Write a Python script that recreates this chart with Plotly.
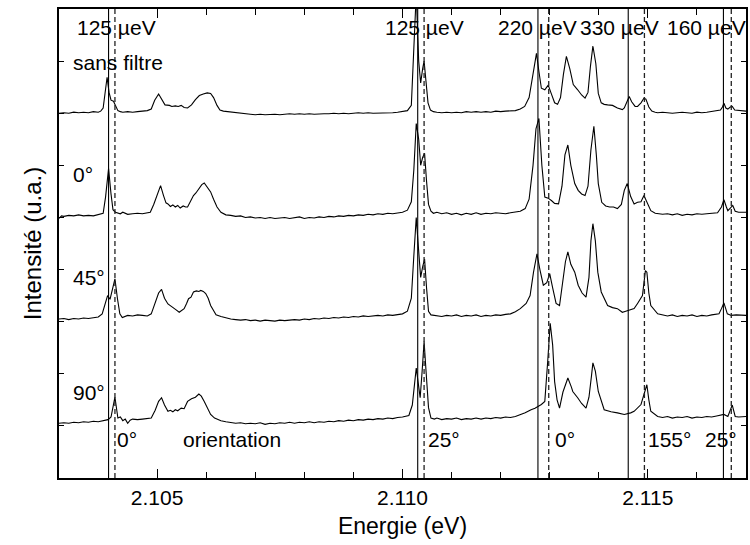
import plotly.graph_objects as go

# ---------------- data (energy eV, intensity above trace baseline) ----------------
spec_sans_filtre = [
    (2.1030, 0.00), (2.1031, 0.01), (2.1032, 0.00), (2.1033, 0.02), (2.1034, 0.01), (2.1035, 0.02),
    (2.1036, 0.01), (2.1037, 0.03), (2.1038, 0.02), (2.10385, 0.04), (2.1039, 0.10), (2.10394, 0.35),
    (2.10398, 0.69), (2.10402, 0.40), (2.10406, 0.25), (2.10411, 0.23), (2.10416, 0.12), (2.1042, 0.05),
    (2.10425, 0.03), (2.1043, 0.02), (2.1044, 0.03), (2.1045, 0.02), (2.1046, 0.03), (2.1047, 0.04),
    (2.1048, 0.05), (2.10488, 0.08), (2.10495, 0.25), (2.10503, 0.37), (2.1051, 0.25), (2.10516, 0.16),
    (2.10525, 0.15), (2.1053, 0.13), (2.10537, 0.14), (2.10543, 0.13), (2.10549, 0.15), (2.10555, 0.11),
    (2.10562, 0.10), (2.1057, 0.16), (2.10578, 0.26), (2.10586, 0.34), (2.10594, 0.37), (2.10602, 0.39),
    (2.10609, 0.38), (2.10615, 0.30), (2.10622, 0.15), (2.10628, 0.06), (2.10635, 0.04), (2.1065, 0.02),
    (2.1066, 0.01), (2.1067, 0.00), (2.1068, -0.01), (2.1069, -0.02), (2.1070, -0.03), (2.1071, -0.02),
    (2.1072, -0.03), (2.1073, -0.02), (2.1074, -0.02), (2.1075, -0.03), (2.1076, -0.02), (2.1077, -0.01),
    (2.1078, -0.02), (2.1079, -0.01), (2.1080, -0.02), (2.1081, -0.01), (2.1082, -0.02), (2.1083, -0.01),
    (2.1084, -0.01), (2.1085, -0.01), (2.1086, 0.00), (2.1087, -0.01), (2.1088, 0.00), (2.1089, -0.01),
    (2.1090, 0.00), (2.1091, 0.01), (2.1092, 0.00), (2.1093, 0.01), (2.1094, 0.00), (2.1095, 0.00),
    (2.1096, 0.01), (2.1097, 0.00), (2.1098, 0.01), (2.1099, 0.02), (2.1100, 0.03), (2.1101, 0.05),
    (2.11018, 0.15), (2.11023, 1.2), (2.11028, 2.3), (2.11033, 1.0), (2.11037, 0.58), (2.11041, 0.85),
    (2.11044, 1.0), (2.11048, 0.6), (2.11052, 0.2), (2.11057, 0.06), (2.11063, 0.03), (2.1107, 0.02),
    (2.1108, 0.01), (2.1109, 0.02), (2.1110, 0.01), (2.1111, 0.02), (2.1112, 0.01), (2.1113, 0.03),
    (2.1114, 0.02), (2.1115, 0.03), (2.1116, 0.02), (2.1117, 0.03), (2.1118, 0.02), (2.1119, 0.04),
    (2.1120, 0.03), (2.1121, 0.04), (2.1122, 0.04), (2.1123, 0.05), (2.1124, 0.08), (2.11249, 0.13),
    (2.11258, 0.30), (2.11266, 0.75), (2.11273, 1.15), (2.11278, 0.80), (2.11283, 0.48), (2.1129, 0.45),
    (2.11297, 0.54), (2.11303, 0.38), (2.1131, 0.20), (2.11316, 0.17), (2.11322, 0.30), (2.11328, 0.75),
    (2.11334, 1.09), (2.11341, 0.85), (2.11348, 0.55), (2.11357, 0.45), (2.11365, 0.35), (2.11372, 0.29),
    (2.11378, 0.40), (2.11383, 0.90), (2.11388, 1.29), (2.11394, 0.95), (2.11399, 0.38), (2.11405, 0.20),
    (2.11411, 0.17), (2.11418, 0.16), (2.11428, 0.15), (2.11438, 0.10), (2.11448, 0.07), (2.11452, 0.10),
    (2.11458, 0.25), (2.11462, 0.32), (2.11467, 0.22), (2.11474, 0.13), (2.11479, 0.13), (2.11486, 0.20),
    (2.11492, 0.29), (2.11496, 0.27), (2.11502, 0.12), (2.11508, 0.04), (2.11515, 0.02), (2.1152, 0.01),
    (2.1153, 0.02), (2.1154, 0.01), (2.1155, 0.00), (2.1156, 0.01), (2.1157, 0.02), (2.1158, 0.01),
    (2.1159, 0.00), (2.1160, 0.02), (2.1161, 0.01), (2.1162, 0.02), (2.1163, 0.03), (2.11642, 0.04),
    (2.11648, 0.06), (2.11652, 0.12), (2.11655, 0.19), (2.11659, 0.10), (2.11663, 0.08), (2.11668, 0.12),
    (2.11672, 0.13), (2.11677, 0.06), (2.11685, 0.05), (2.1169, 0.04), (2.1170, 0.04),
]

spec_0deg = [
    (2.1030, -0.02), (2.10305, 0.03), (2.1031, 0.02), (2.1032, 0.04), (2.1033, 0.03), (2.1034, 0.05),
    (2.1035, 0.03), (2.1036, 0.04), (2.1037, 0.03), (2.1038, 0.05), (2.10385, 0.06), (2.1039, 0.08),
    (2.10395, 0.40), (2.10401, 0.94), (2.10406, 0.45), (2.1041, 0.15), (2.10415, 0.10), (2.1042, 0.09),
    (2.10425, 0.07), (2.1043, 0.10), (2.1044, 0.06), (2.1045, 0.07), (2.1046, 0.08), (2.1047, 0.07),
    (2.1048, 0.09), (2.10486, 0.10), (2.10493, 0.25), (2.1050, 0.45), (2.10507, 0.61), (2.10513, 0.42),
    (2.10518, 0.28), (2.10522, 0.26), (2.10527, 0.21), (2.10532, 0.24), (2.10537, 0.20), (2.10542, 0.23),
    (2.10547, 0.18), (2.10553, 0.22), (2.10558, 0.20), (2.10562, 0.20), (2.10568, 0.30), (2.10574, 0.42),
    (2.10579, 0.47), (2.10585, 0.55), (2.10591, 0.63), (2.10596, 0.66), (2.10601, 0.60), (2.10606, 0.52),
    (2.10609, 0.49), (2.10615, 0.35), (2.10622, 0.20), (2.1063, 0.10), (2.10636, 0.06), (2.1064, 0.05),
    (2.1065, 0.04), (2.1066, 0.02), (2.1067, 0.03), (2.1068, 0.00), (2.1069, 0.01), (2.1070, -0.01),
    (2.1071, 0.00), (2.1072, -0.02), (2.1073, 0.00), (2.1074, -0.02), (2.1075, -0.01), (2.1076, 0.00),
    (2.1077, -0.02), (2.1078, -0.01), (2.1079, 0.01), (2.1080, -0.02), (2.1081, 0.00), (2.1082, -0.01),
    (2.1083, 0.01), (2.1084, 0.00), (2.1085, 0.02), (2.1086, 0.01), (2.1087, 0.03), (2.1088, 0.02),
    (2.1089, 0.04), (2.1090, 0.03), (2.1091, 0.05), (2.1092, 0.04), (2.1093, 0.06), (2.1094, 0.05),
    (2.1095, 0.07), (2.1096, 0.06), (2.1097, 0.08), (2.1098, 0.07), (2.1099, 0.09), (2.1100, 0.10),
    (2.1101, 0.14), (2.11018, 0.30), (2.11023, 0.90), (2.11028, 1.80), (2.11033, 1.50), (2.11037, 1.00),
    (2.11041, 1.15), (2.11045, 1.23), (2.11049, 0.70), (2.11053, 0.25), (2.11058, 0.12), (2.11063, 0.08),
    (2.1107, 0.10), (2.1108, 0.07), (2.1109, 0.09), (2.1110, 0.06), (2.1111, 0.08), (2.1112, 0.05),
    (2.1113, 0.08), (2.1114, 0.06), (2.1115, 0.09), (2.1116, 0.06), (2.1117, 0.08), (2.1118, 0.07),
    (2.1119, 0.09), (2.1120, 0.08), (2.1121, 0.07), (2.1122, 0.09), (2.1123, 0.10), (2.1124, 0.12),
    (2.1125, 0.17), (2.11258, 0.35), (2.11266, 1.00), (2.11272, 1.70), (2.11278, 1.90), (2.11284, 1.00),
    (2.1129, 0.39), (2.11297, 0.37), (2.11304, 0.32), (2.1131, 0.27), (2.11318, 0.26), (2.11325, 0.60),
    (2.11331, 1.20), (2.11337, 1.39), (2.11343, 1.00), (2.11351, 0.65), (2.11358, 0.52), (2.11365, 0.45),
    (2.11372, 0.42), (2.11378, 0.60), (2.11384, 1.30), (2.1139, 1.75), (2.11395, 1.20), (2.11399, 0.65),
    (2.11406, 0.29), (2.11414, 0.22), (2.11422, 0.20), (2.1143, 0.20), (2.11438, 0.17), (2.11446, 0.25),
    (2.11452, 0.52), (2.11458, 0.65), (2.11465, 0.40), (2.11472, 0.26), (2.11479, 0.29), (2.11486, 0.30),
    (2.11492, 0.42), (2.11498, 0.30), (2.11506, 0.13), (2.11515, 0.08), (2.1153, 0.06), (2.1154, 0.07),
    (2.1155, 0.05), (2.1156, 0.07), (2.1157, 0.04), (2.1158, 0.06), (2.1159, 0.05), (2.1160, 0.07),
    (2.1161, 0.06), (2.1162, 0.07), (2.1163, 0.08), (2.11642, 0.09), (2.1165, 0.20), (2.11655, 0.34),
    (2.1166, 0.20), (2.11663, 0.13), (2.11668, 0.18), (2.11673, 0.23), (2.11678, 0.12), (2.11685, 0.10),
    (2.1170, 0.10),
]

spec_45deg = [
    (2.1030, 0.00), (2.1031, 0.01), (2.1032, -0.01), (2.1033, 0.01), (2.1034, 0.00), (2.1035, 0.02),
    (2.1036, 0.01), (2.1037, 0.03), (2.1038, 0.04), (2.10388, 0.10), (2.10394, 0.30), (2.10399, 0.45),
    (2.10404, 0.38), (2.10409, 0.60), (2.10414, 0.77), (2.10419, 0.40), (2.10424, 0.10), (2.10429, 0.03),
    (2.10435, 0.05), (2.1044, 0.07), (2.1045, 0.06), (2.1046, 0.08), (2.1047, 0.07), (2.1048, 0.06),
    (2.10488, 0.10), (2.10496, 0.30), (2.10503, 0.50), (2.10509, 0.57), (2.10515, 0.40), (2.10522, 0.29),
    (2.10527, 0.26), (2.10532, 0.23), (2.10538, 0.18), (2.10545, 0.13), (2.1055, 0.17), (2.10555, 0.20),
    (2.1056, 0.30), (2.10564, 0.39), (2.10569, 0.42), (2.10574, 0.52), (2.1058, 0.54), (2.10585, 0.53),
    (2.10589, 0.55), (2.10594, 0.53), (2.10599, 0.49), (2.10604, 0.40), (2.10609, 0.26), (2.10615, 0.15),
    (2.1062, 0.08), (2.1063, 0.05), (2.1064, 0.02), (2.1065, 0.00), (2.1066, -0.01), (2.1067, -0.02),
    (2.1068, -0.01), (2.1069, -0.03), (2.1070, -0.02), (2.1071, -0.04), (2.1072, -0.02), (2.1073, -0.03),
    (2.1074, -0.04), (2.1075, -0.02), (2.1076, -0.03), (2.1077, -0.02), (2.1078, -0.01), (2.1079, -0.02),
    (2.1080, 0.00), (2.1081, -0.01), (2.1082, 0.01), (2.1083, 0.00), (2.1084, 0.02), (2.1085, 0.01),
    (2.1086, 0.03), (2.1087, 0.02), (2.1088, 0.04), (2.1089, 0.03), (2.1090, 0.05), (2.1091, 0.04),
    (2.1092, 0.06), (2.1093, 0.05), (2.1094, 0.06), (2.1095, 0.07), (2.1096, 0.06), (2.1097, 0.08),
    (2.1098, 0.07), (2.1099, 0.09), (2.1100, 0.10), (2.1101, 0.15), (2.11018, 0.40), (2.11023, 1.20),
    (2.11028, 1.95), (2.11033, 1.30), (2.11037, 0.80), (2.11041, 1.00), (2.11045, 1.15), (2.11049, 0.60),
    (2.11053, 0.15), (2.11058, 0.08), (2.1107, 0.07), (2.1108, 0.05), (2.1109, 0.07), (2.1110, 0.06),
    (2.1111, 0.08), (2.1112, 0.05), (2.1113, 0.07), (2.1114, 0.06), (2.1115, 0.08), (2.1116, 0.05),
    (2.1117, 0.07), (2.1118, 0.06), (2.1119, 0.08), (2.1120, 0.07), (2.1121, 0.09), (2.1122, 0.10),
    (2.1123, 0.14), (2.1124, 0.20), (2.11252, 0.30), (2.1126, 0.45), (2.11267, 0.90), (2.11274, 1.25),
    (2.1128, 0.95), (2.11287, 0.65), (2.11294, 0.70), (2.1130, 0.87), (2.11306, 0.60), (2.11313, 0.30),
    (2.1132, 0.26), (2.11326, 0.70), (2.11332, 1.10), (2.11337, 1.29), (2.11343, 1.05), (2.11351, 0.90),
    (2.11358, 0.65), (2.11366, 0.50), (2.11374, 0.42), (2.1138, 0.80), (2.11384, 1.50), (2.11388, 1.83),
    (2.11393, 1.50), (2.11398, 0.90), (2.11405, 0.52), (2.11418, 0.26), (2.11428, 0.22), (2.11438, 0.20),
    (2.11448, 0.13), (2.11455, 0.15), (2.11462, 0.17), (2.11472, 0.20), (2.11479, 0.30), (2.11489, 0.45),
    (2.11495, 0.93), (2.11498, 0.90), (2.11502, 0.50), (2.11506, 0.26), (2.1152, 0.10), (2.1153, 0.08),
    (2.1154, 0.06), (2.1155, 0.08), (2.1156, 0.05), (2.1157, 0.07), (2.1158, 0.06), (2.1159, 0.08),
    (2.1160, 0.05), (2.1161, 0.07), (2.1162, 0.06), (2.1163, 0.08), (2.11645, 0.10), (2.1165, 0.20),
    (2.11655, 0.31), (2.11662, 0.10), (2.1167, 0.07), (2.1168, 0.08), (2.1170, 0.07),
]

spec_90deg = [
    (2.1030, 0.00), (2.1031, 0.01), (2.1032, 0.00), (2.1033, 0.02), (2.1034, 0.01), (2.1035, 0.03),
    (2.1036, 0.02), (2.1037, 0.04), (2.1038, 0.03), (2.10392, 0.05), (2.1040, 0.07), (2.10406, 0.12),
    (2.10414, 0.50), (2.1042, 0.10), (2.10425, 0.12), (2.1043, 0.05), (2.10435, 0.08), (2.1044, 0.00),
    (2.10445, 0.06), (2.1045, 0.08), (2.1046, 0.07), (2.1047, 0.08), (2.1048, 0.09), (2.10488, 0.10),
    (2.10496, 0.25), (2.10503, 0.42), (2.10509, 0.49), (2.10515, 0.35), (2.10522, 0.23), (2.10527, 0.25),
    (2.10532, 0.22), (2.10537, 0.26), (2.10542, 0.24), (2.10549, 0.29), (2.10555, 0.28), (2.10562, 0.42),
    (2.1057, 0.47), (2.10578, 0.50), (2.10585, 0.56), (2.1059, 0.52), (2.10596, 0.42), (2.10603, 0.30),
    (2.10609, 0.17), (2.10617, 0.10), (2.1063, 0.05), (2.1064, 0.03), (2.1065, 0.02), (2.1066, 0.00),
    (2.1067, 0.01), (2.1068, -0.01), (2.1069, 0.00), (2.1070, -0.01), (2.1071, 0.01), (2.1072, -0.02),
    (2.1073, 0.00), (2.1074, -0.01), (2.1075, 0.01), (2.1076, 0.00), (2.1077, 0.02), (2.1078, 0.00),
    (2.1079, 0.02), (2.1080, 0.01), (2.1081, 0.03), (2.1082, 0.01), (2.1083, 0.03), (2.1084, 0.02),
    (2.1085, 0.04), (2.1086, 0.03), (2.1087, 0.05), (2.1088, 0.04), (2.1089, 0.06), (2.1090, 0.05),
    (2.1091, 0.07), (2.1092, 0.06), (2.1093, 0.08), (2.1094, 0.07), (2.1095, 0.09), (2.1096, 0.08),
    (2.1097, 0.10), (2.1098, 0.09), (2.1099, 0.11), (2.1100, 0.12), (2.11013, 0.15), (2.1102, 0.35),
    (2.11028, 1.06), (2.11032, 0.80), (2.11036, 0.49), (2.1104, 1.00), (2.11044, 1.57), (2.11048, 1.00),
    (2.11053, 0.30), (2.11058, 0.10), (2.11065, 0.08), (2.1107, 0.10), (2.1108, 0.07), (2.1109, 0.09),
    (2.1110, 0.08), (2.1111, 0.10), (2.1112, 0.07), (2.1113, 0.09), (2.1114, 0.08), (2.1115, 0.10),
    (2.1116, 0.08), (2.1117, 0.10), (2.1118, 0.09), (2.1119, 0.11), (2.1120, 0.10), (2.1121, 0.12),
    (2.1122, 0.11), (2.1123, 0.13), (2.1124, 0.16), (2.1125, 0.20), (2.11262, 0.26), (2.1127, 0.29),
    (2.11283, 0.36), (2.1129, 0.42), (2.11296, 1.20), (2.11301, 1.92), (2.11306, 1.50), (2.1131, 0.80),
    (2.11315, 0.45), (2.1132, 0.29), (2.11327, 0.60), (2.11334, 0.80), (2.11337, 0.87), (2.11344, 0.70),
    (2.11347, 0.61), (2.11357, 0.49), (2.11365, 0.38), (2.11374, 0.29), (2.1138, 0.50), (2.11385, 0.90),
    (2.11388, 1.16), (2.11393, 1.00), (2.11399, 0.61), (2.11411, 0.26), (2.11425, 0.22), (2.11438, 0.20),
    (2.11452, 0.17), (2.11465, 0.20), (2.11472, 0.23), (2.11486, 0.36), (2.11492, 0.55), (2.11498, 0.74),
    (2.11502, 0.45), (2.11506, 0.23), (2.1152, 0.13), (2.1153, 0.11), (2.1154, 0.13), (2.1155, 0.10),
    (2.1156, 0.12), (2.1157, 0.11), (2.1158, 0.13), (2.1159, 0.10), (2.1160, 0.12), (2.1161, 0.11),
    (2.1162, 0.13), (2.1163, 0.12), (2.1164, 0.14), (2.1165, 0.16), (2.11655, 0.17), (2.11663, 0.13),
    (2.11668, 0.25), (2.11672, 0.35), (2.11678, 0.13), (2.11685, 0.12), (2.1170, 0.13),
]

spectra = [spec_sans_filtre, spec_0deg, spec_45deg, spec_90deg]
offsets = [7.0, 5.0, 3.05, 1.05]

solid_lines = [2.10401, 2.11031, 2.11276, 2.11460, 2.11654]
dashed_lines = [2.10414, 2.11044, 2.11298, 2.11493, 2.11670]

top_labels = ["125 µeV", "125 µeV", "220 µeV", "330 µeV", "160 µeV"]
top_label_x = [2.10332, 2.10960, 2.11191, 2.11358, 2.11534]
trace_labels = ["sans filtre", "0°", "45°", "90°"]
trace_label_y = [7.97, 5.82, 3.84, 1.65]
bottom_labels = ["0°", "orientation", "25°", "0°", "155°", "25°"]
bottom_label_x = [2.10415, 2.10549, 2.11048, 2.11306, 2.11497, 2.11613]

x_range = [2.103, 2.117]
y_range = [0, 9]

FONT = "Liberation Sans, Arial, sans-serif"
LBL = 21

fig = go.Figure()
for spec, off in zip(spectra, offsets):
    xs = [p[0] for p in spec]
    ys = [p[1] + off for p in spec]
    fig.add_trace(go.Scatter(x=xs, y=ys, mode="lines",
                             line=dict(color="black", width=1.1), showlegend=False,
                             hoverinfo="skip"))

for e in solid_lines:
    fig.add_shape(type="line", xref="x", yref="paper", x0=e, x1=e, y0=0, y1=1,
                  line=dict(color="black", width=1.1))
for e in dashed_lines:
    fig.add_shape(type="line", xref="x", yref="paper", x0=e, x1=e, y0=0, y1=1,
                  line=dict(color="#222222", width=1.3, dash="5px,3px"))

ann = []
for t, x in zip(top_labels, top_label_x):
    ann.append(dict(text=t, x=x, y=8.64, xref="x", yref="y", xanchor="left",
                    yanchor="middle", showarrow=False, font=dict(size=LBL, color="black", family=FONT)))
for t, y in zip(trace_labels, trace_label_y):
    ann.append(dict(text=t, x=2.10324, y=y, xref="x", yref="y", xanchor="left",
                    yanchor="middle", showarrow=False, font=dict(size=LBL, color="black", family=FONT)))
for t, x in zip(bottom_labels, bottom_label_x):
    ann.append(dict(text=t, x=x, y=0.73, xref="x", yref="y", xanchor="left",
                    yanchor="middle", showarrow=False, font=dict(size=LBL, color="black", family=FONT)))

fig.update_layout(
    width=750, height=545,
    margin=dict(l=59, r=2, t=9, b=67),
    paper_bgcolor="white", plot_bgcolor="white",
    font=dict(family=FONT, size=LBL, color="black"),
    annotations=ann,
    xaxis=dict(range=x_range, showgrid=False, zeroline=False,
               showline=True, linecolor="black", linewidth=1.5, mirror="ticks",
               ticks="inside", ticklen=9, tickwidth=1.3, tickcolor="black",
               tick0=2.105, dtick=0.005, tickformat=".3f",
               tickfont=dict(size=LBL, family=FONT),
               minor=dict(dtick=0.001, tick0=2.103, ticks="inside", ticklen=6,
                          tickwidth=1.3, tickcolor="black", showgrid=False),
               title=dict(text="Energie (eV)", font=dict(size=23, family=FONT), standoff=10)),
    yaxis=dict(range=y_range, showgrid=False, zeroline=False,
               showline=True, linecolor="black", linewidth=1.5, mirror="ticks",
               ticks="inside", ticklen=5, tickwidth=1.3, tickcolor="black",
               tick0=0, dtick=1, showticklabels=False,
               title=dict(text="Intensité (u.a.)", font=dict(size=24, family=FONT), standoff=9)),
)

fig.write_html("out.html")
